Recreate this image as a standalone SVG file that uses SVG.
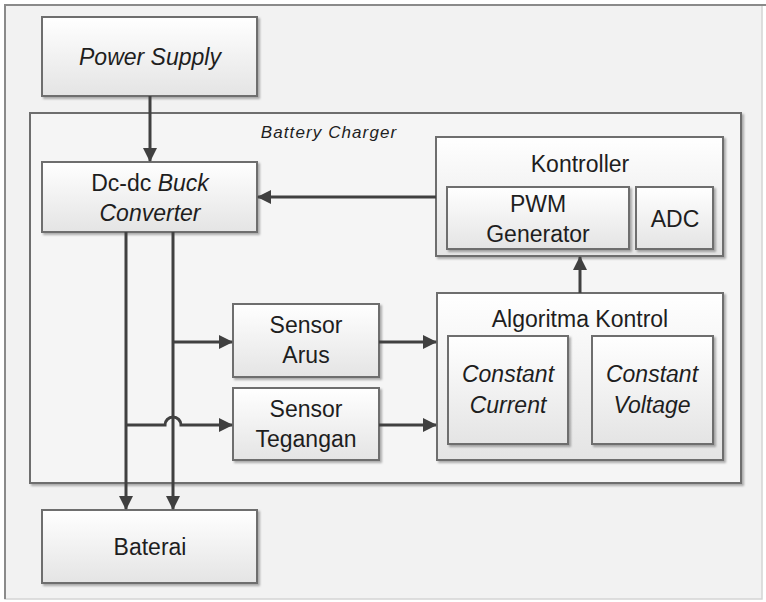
<svg xmlns="http://www.w3.org/2000/svg" width="766" height="602" viewBox="0 0 766 602">
<style>
.box{fill:url(#g);stroke:#6e6e6e;stroke-width:2;filter:url(#sh)}
.cont{fill:#f5f5f5;stroke:#6e6e6e;stroke-width:2;filter:url(#sh)}
.t{font-family:"Liberation Sans",Arial,sans-serif;font-size:23px;fill:#1e1e1e;text-anchor:middle}
.i{font-style:italic}
.c{fill:none;stroke:#404040;stroke-width:3}
.a{marker-end:url(#ah)}
</style>
<defs>
<linearGradient id="g" x1="0" y1="0" x2="0" y2="1">
<stop offset="0" stop-color="#ffffff"/>
<stop offset="1" stop-color="#e4e4e4"/>
</linearGradient>
<filter id="sh" x="-10%" y="-10%" width="120%" height="130%">
<feDropShadow dx="2" dy="2" stdDeviation="1.2" flood-color="#000" flood-opacity="0.3"/>
</filter>
<marker id="ah" markerUnits="userSpaceOnUse" markerWidth="14" markerHeight="14" refX="13" refY="7" orient="auto">
<path d="M0,0 L14,7 L0,14 z" fill="#404040"/>
</marker>
</defs>
<rect x="0" y="0" width="766" height="602" fill="#ffffff"/>
<rect x="5" y="5" width="757" height="594" fill="#f2f2f2" stroke="#d4d4d4" stroke-width="1.5"/>
<path d="M5,599 V5 H766" fill="none" stroke="#8a8a8a" stroke-width="2"/>

<g id="battery-charger">
<rect class="cont" x="30" y="113" width="711" height="370"/>
<text class="t i" x="329" y="138" style="font-size:17px;letter-spacing:1.1px">Battery Charger</text>
</g>

<g id="power-supply">
<rect class="box" x="42" y="17" width="215" height="79"/>
<text class="t i" x="150" y="65">Power Supply</text>
</g>

<g id="buck-converter">
<rect class="box" x="42" y="162" width="215" height="70"/>
<text class="t" x="150" y="191">Dc-dc <tspan class="i">Buck</tspan></text>
<text class="t i" x="150" y="221">Converter</text>
</g>

<g id="kontroller">
<rect class="box" x="436" y="137" width="287" height="119"/>
<text class="t" x="580" y="172">Kontroller</text>
</g>
<g id="pwm-generator">
<rect class="box" x="447" y="187" width="182" height="62"/>
<text class="t" x="538" y="212">PWM</text>
<text class="t" x="538" y="242">Generator</text>
</g>
<g id="adc">
<rect class="box" x="636" y="187" width="77" height="62"/>
<text class="t" x="675" y="227">ADC</text>
</g>

<g id="algoritma-kontrol">
<rect class="box" x="437" y="293" width="286" height="167"/>
<text class="t" x="580" y="327">Algoritma Kontrol</text>
</g>
<g id="constant-current">
<rect class="box" x="448" y="336" width="120" height="108"/>
<text class="t i" x="508" y="382">Constant</text>
<text class="t i" x="508" y="413">Current</text>
</g>
<g id="constant-voltage">
<rect class="box" x="592" y="336" width="121" height="108"/>
<text class="t i" x="652" y="382">Constant</text>
<text class="t i" x="652" y="413">Voltage</text>
</g>

<g id="sensor-arus">
<rect class="box" x="233" y="304" width="146" height="73"/>
<text class="t" x="306" y="333">Sensor</text>
<text class="t" x="306" y="363">Arus</text>
</g>
<g id="sensor-tegangan">
<rect class="box" x="233" y="388" width="146" height="72"/>
<text class="t" x="306" y="417">Sensor</text>
<text class="t" x="306" y="447">Tegangan</text>
</g>

<g id="baterai">
<rect class="box" x="42" y="510" width="215" height="73"/>
<text class="t" x="150" y="555">Baterai</text>
</g>

<g id="connectors">
<path class="c a" d="M150,96 V161"/>
<path class="c a" d="M436,197 H258"/>
<path class="c a" d="M580,293 V257"/>
<path class="c a" d="M126,232 V509"/>
<path class="c a" d="M173,232 V509"/>
<path class="c a" d="M173,342 H232"/>
<path class="c a" d="M126,425 H165 A8,8 0 0 1 181,425 H232"/>
<path class="c a" d="M379,342 H436"/>
<path class="c a" d="M379,425 H436"/>
</g>
</svg>
